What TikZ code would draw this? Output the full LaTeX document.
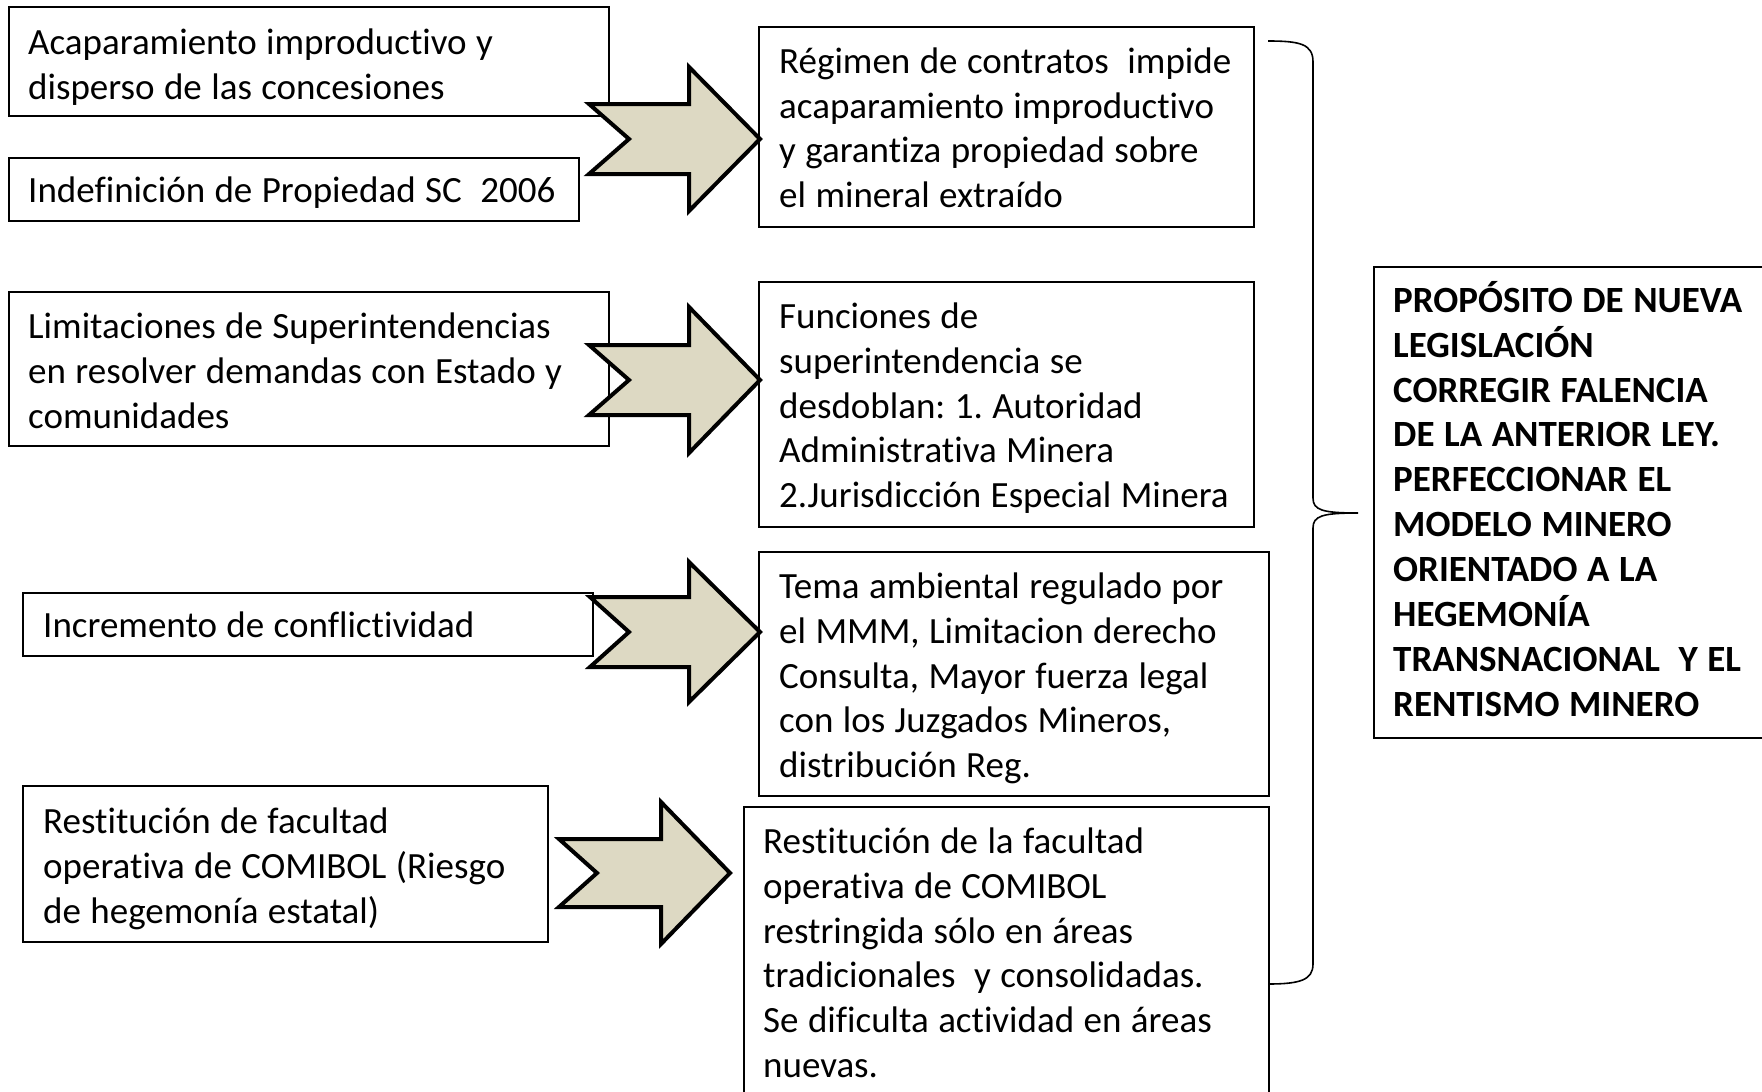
\documentclass[tikz,border=0pt]{standalone}
\usepackage{fontspec}
\setmainfont{Carlito}[Ligatures=NoCommon]
\frenchspacing
\definecolor{tan}{RGB}{221,217,195}
\newcommand{\fl}{\spaceskip=9.4pt plus 1pt minus 1pt\xspaceskip=9.4pt plus 1pt minus 1pt\relax\rule{0pt}{40pt}}
\newcommand{\flb}{\spaceskip=9.6pt plus 1pt minus 1pt\xspaceskip=9.6pt plus 1pt minus 1pt\relax\rule{0pt}{40pt}}
\newcommand{\dsp}{\hspace*{18.6pt}}
\newcommand{\txtfont}{\fontsize{37}{44.9}\selectfont}
\newcommand{\bigfont}{\fontsize{37}{44.9}\selectfont\bfseries}
\begin{document}
\begin{tikzpicture}[x=1pt,y=-1pt,
  box/.style={draw=black, line width=1.6pt, fill=white, rectangle, inner sep=0pt, anchor=north west},
  txt/.style={anchor=north west, inner sep=0pt, text width=600pt, align=left, font=\txtfont},
  blk/.style={draw=black, line width=4pt, fill=tan, line join=miter},
  brace/.style={draw=black, line width=1.6pt}]
\useasboundingbox (0,0) rectangle (1762,1092);
% left boxes
\node[box, minimum width=600pt, minimum height=109pt] (a1) at (8,6) {};
\node[box, minimum width=570pt, minimum height=63pt] (a2) at (8,157) {};
\node[box, minimum width=600pt, minimum height=154pt] (b1) at (8,291) {};
\node[box, minimum width=570pt, minimum height=63pt] (c1) at (22,592) {};
\node[box, minimum width=525pt, minimum height=156pt] (d1) at (22,785) {};
% right boxes
\node[box, minimum width=495pt, minimum height=200pt] (r1) at (758,26) {};
\node[box, minimum width=495pt, minimum height=245pt] (r2) at (758,281) {};
\node[box, minimum width=510pt, minimum height=244pt] (r3) at (758,551) {};
\node[box, minimum width=525pt, minimum height=320pt] (r4) at (743,806) {};
\node[box, minimum width=420pt, minimum height=471pt] (big) at (1373,266) {};
% arrows
\path[blk] (589,104) -- (689,104) -- (689,67) -- (760,139) -- (689,211) -- (689,174) -- (589,174) -- (629,139) -- cycle;
\path[blk] (589,345) -- (689,345) -- (689,307) -- (760,380) -- (689,453) -- (689,415) -- (589,415) -- (629,380) -- cycle;
\path[blk] (590,597) -- (689,597) -- (689,562) -- (760,632) -- (689,702) -- (689,667) -- (590,667) -- (629,632) -- cycle;
\path[blk] (559,839) -- (661,839) -- (661,802) -- (730,873) -- (661,944) -- (661,907) -- (559,907) -- (597,873) -- cycle;
% brace
\coordinate (bt) at (1268,41);
\coordinate (bm) at (1358,513);
\coordinate (bb) at (1268,984);
\draw[brace] (bt) .. controls (1300,41) and (1313,44) .. (1313,62) -- (1313,498)
  .. controls (1313,510) and (1322,513) .. (bm)
  .. controls (1322,513) and (1313,516) .. (1313,528) -- (1313,964)
  .. controls (1313,980) and (1300,984) .. (bb);
% texts
\node[txt] (ta1) at (28,14) {\fl Acaparamiento improductivo y\\disperso de las concesiones};
\node[txt] (ta2) at (28,162) {\fl Indefinición de Propiedad SC\dsp 2006};
\node[txt] (tb1) at (28,298) {\fl Limitaciones de Superintendencias\\en resolver demandas con Estado y\\comunidades};
\node[txt] (tc1) at (43,597) {\fl Incremento de conflictividad};
\node[txt] (td1) at (43,793) {\fl Restitución de facultad\\operativa de COMIBOL (Riesgo\\de hegemonía estatal)};
\node[txt] (tr1) at (779,33) {\fl Régimen de contratos\dsp impide\\acaparamiento improductivo\\y garantiza propiedad sobre\\el mineral extraído};
\node[txt] (tr2) at (779,288) {\fl Funciones de\\superintendencia se\\desdoblan: 1. Autoridad\\Administrativa Minera\\2.Jurisdicción Especial Minera};
\node[txt] (tr3) at (779,558) {\fl Tema ambiental regulado por\\el MMM, Limitacion derecho\\Consulta, Mayor fuerza legal\\con los Juzgados Mineros,\\distribución Reg.};
\node[txt] (tr4) at (763,813) {\fl Restitución de la facultad\\operativa de COMIBOL\\restringida sólo en áreas\\tradicionales\dsp y consolidadas.\\Se dificulta actividad en áreas\\nuevas.};
\node[txt, font=\bigfont] (tbig) at (1393,272) {\flb PROPÓSITO DE NUEVA\\LEGISLACIÓN\\CORREGIR FALENCIA\\DE LA ANTERIOR LEY.\\PERFECCIONAR EL\\MODELO MINERO\\ORIENTADO A LA\\HEGEMONÍA\\TRANSNACIONAL\dsp Y EL\\RENTISMO MINERO};
\end{tikzpicture}
\end{document}
